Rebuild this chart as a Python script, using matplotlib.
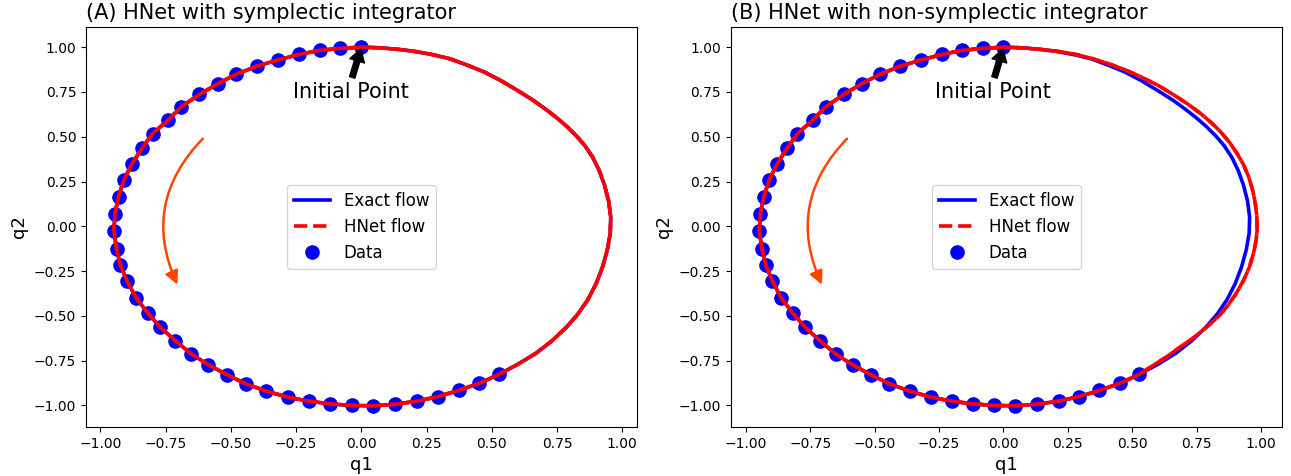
import numpy as np
import matplotlib.pyplot as plt

data_q1 = [0.00, -0.08, -0.16, -0.24, -0.32, -0.40, -0.48, -0.55, -0.62, -0.69, -0.74,
           -0.80, -0.84, -0.88, -0.91, -0.93, -0.944, -0.948, -0.938, -0.923, -0.897,
           -0.863, -0.817, -0.77, -0.713, -0.652, -0.586, -0.514, -0.443, -0.364,
           -0.281, -0.201, -0.119, -0.036, 0.046, 0.131, 0.214, 0.294, 0.373, 0.453, 0.528]
data_q2 = [1.00, 0.993, 0.982, 0.959, 0.928, 0.894, 0.848, 0.796, 0.736, 0.667, 0.593,
           0.517, 0.436, 0.346, 0.257, 0.166, 0.071, -0.025, -0.124, -0.216, -0.307,
           -0.40, -0.486, -0.564, -0.638, -0.712, -0.773, -0.829, -0.879, -0.92,
           -0.954, -0.976, -0.991, -1.0, -1.002, -0.993, -0.976, -0.95, -0.916, -0.876, -0.826]

# exact orbit (counter-clockwise from the initial point)
exact_q1 = [0.00, -0.08, -0.16, -0.24, -0.32, -0.40, -0.48, -0.55, -0.62, -0.69, -0.74,
            -0.80, -0.84, -0.88, -0.91, -0.93, -0.944, -0.948, -0.938, -0.923, -0.897,
            -0.863, -0.817, -0.77, -0.713, -0.652, -0.586, -0.514, -0.443, -0.364,
            -0.281, -0.201, -0.119, -0.036, 0.046, 0.131, 0.214, 0.294, 0.373, 0.453, 0.528,
            0.60, 0.67, 0.73, 0.785, 0.83, 0.868, 0.90, 0.925, 0.943, 0.954, 0.956,
            0.948, 0.932, 0.912, 0.887, 0.857, 0.824, 0.787, 0.747, 0.705, 0.657,
            0.60, 0.533, 0.47, 0.40, 0.34, 0.274, 0.21, 0.147, 0.075, 0.00]
exact_q2 = [1.00, 0.993, 0.982, 0.959, 0.928, 0.894, 0.848, 0.796, 0.736, 0.667, 0.593,
            0.517, 0.436, 0.346, 0.257, 0.166, 0.071, -0.025, -0.124, -0.216, -0.307,
            -0.40, -0.486, -0.564, -0.638, -0.712, -0.773, -0.829, -0.879, -0.92,
            -0.954, -0.976, -0.991, -1.0, -1.002, -0.993, -0.976, -0.95, -0.916, -0.876, -0.826,
            -0.77, -0.708, -0.64, -0.565, -0.49, -0.41, -0.32, -0.225, -0.13, -0.04, 0.05,
            0.14, 0.23, 0.31, 0.385, 0.45, 0.505, 0.558, 0.608, 0.655, 0.705,
            0.757, 0.815, 0.862, 0.903, 0.935, 0.958, 0.975, 0.987, 0.996, 1.00]

# HNet orbit, non-symplectic integrator (drifts outward on the right)
hnet_b_q1 = exact_q1[:39] + [0.453, 0.528, 0.572, 0.632, 0.688, 0.742, 0.791, 0.832, 0.868,
                             0.903, 0.933, 0.955, 0.971, 0.98, 0.985, 0.984, 0.978, 0.967,
                             0.952, 0.932, 0.907, 0.877, 0.843, 0.806, 0.765, 0.715, 0.662,
                             0.60, 0.533, 0.47, 0.405, 0.34, 0.276, 0.21, 0.147, 0.075, 0.00]
hnet_b_q2 = exact_q2[:39] + [-0.876, -0.826, -0.785, -0.73, -0.672, -0.618, -0.56, -0.507, -0.449,
                             -0.377, -0.30, -0.228, -0.151, -0.087, -0.021, 0.055, 0.128, 0.205,
                             0.277, 0.345, 0.407, 0.47, 0.528, 0.58, 0.63, 0.683, 0.733,
                             0.787, 0.835, 0.875, 0.909, 0.938, 0.961, 0.977, 0.987, 0.996, 1.00]

panels = [("(A) HNet with symplectic integrator", exact_q1, exact_q2),
          ("(B) HNet with non-symplectic integrator", hnet_b_q1, hnet_b_q2)]

fig = plt.figure(figsize=(12.91, 4.76), dpi=100)
lefts = [0.0666, 0.5662]
lw = 2.6

for (title, hq1, hq2), left in zip(panels, lefts):
    ax = fig.add_axes([left, 0.103, 0.4265, 0.8405])
    ax.plot(exact_q1, exact_q2, color='blue', lw=lw, label='Exact flow')
    ax.plot(hq1, hq2, color='red', lw=lw, ls='--', label='HNet flow')
    ax.plot(hq1, hq2, color='red', lw=lw, ls=(3.7, (3.7, 1.6)))
    ax.plot(data_q1, data_q2, 'o', color='blue', ms=9.5, label='Data', zorder=1)
    ax.annotate('Initial Point', xy=(data_q1[0], data_q2[0]), xytext=(-0.04, 0.75),
                ha='center', va='center', fontsize=15,
                arrowprops=dict(facecolor='black', shrink=0.05, width=4, headwidth=11, headlength=9))
    ax.annotate('', xy=(-0.70, -0.34), xytext=(-0.60, 0.50),
                arrowprops=dict(arrowstyle='-|>', color='orangered', lw=1.8,
                                mutation_scale=20, connectionstyle='arc3,rad=0.35'))
    ax.legend(loc='center', fontsize=12, handlelength=2.2)
    ax.set_title(title, loc='left', fontsize=15)
    ax.set_xlabel('q1', fontsize=13)
    ax.set_ylabel('q2', fontsize=13)
    ax.set_ylim(-1.12, 1.113)

fig.axes[0].set_xlim(-1.055, 1.055)
fig.axes[1].set_xlim(-1.058, 1.08)

plt.savefig('out.png', dpi=100)
